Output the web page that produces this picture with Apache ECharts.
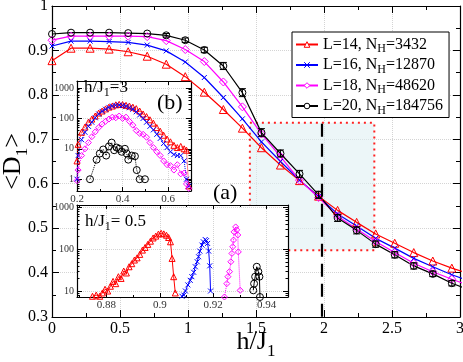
<!DOCTYPE html>
<html><head><meta charset="utf-8">
<script src="https://cdn.jsdelivr.net/npm/echarts@6/dist/echarts.min.js"></script>
<style>html,body{margin:0;padding:0;background:#fff}#c{width:463px;height:362px}</style>
</head><body><div id="c"></div>
<script>
// ---------- main panel data ----------
const hValues = [0,0.14,0.28,0.42,0.56,0.70,0.84,0.98,1.12,1.26,1.40,1.54,1.68,1.82,1.96,2.10,2.24,2.38,2.52,2.66,2.80,2.94,3.08];
const dL14 = [0.877,0.905,0.905,0.903,0.897,0.887,0.869,0.841,0.806,0.767,0.725,0.681,0.642,0.607,0.572,0.540,0.513,0.487,0.466,0.445,0.426,0.410,0.396];
const dL16 = [0.910,0.921,0.921,0.920,0.918,0.912,0.899,0.874,0.839,0.794,0.746,0.694,0.650,0.608,0.571,0.532,0.505,0.477,0.455,0.432,0.413,0.395,0.380];
const dL18 = [0.923,0.932,0.932,0.932,0.932,0.931,0.922,0.902,0.875,0.829,0.773,0.712,0.661,0.608,0.569,0.527,0.498,0.470,0.445,0.421,0.402,0.385,0.370];
const dL20 = [0.937,0.940,0.940,0.940,0.939,0.938,0.934,0.923,0.901,0.865,0.805,0.715,0.668,0.622,0.575,0.523,0.495,0.464,0.440,0.415,0.397,0.376,0.360];
const errL20 = [0,0,0,0,0,0,0.004,0.005,0.006,0.008,0.009,0.009,0.008,0.008,0.008,0.008,0.008,0.007,0.007,0.007,0.006,0.006,0.006];
const chainLengths = [14,16,18,20];
const hilbertDims = [3432,12870,48620,184756];
const criticalField = 1.98;
const dashedSpan = [0.735,0.3];
const zoomBoxH = [1.455,2.37];
const zoomBoxD = [0.45,0.737];
const mainXTicks = ['0','0.5','1','1.5','2','2.5','3'];
const mainYTicks = ['0.3','0.4','0.5','0.6','0.7','0.8','0.9','1'];

// ---------- inset (b): h/J1 = 3 ----------
const xB = [0.200,0.205,0.220,0.235,0.250,0.265,0.280,0.295,0.310,0.325,0.340,0.355,0.370,0.385,0.400,0.415,0.430,0.445,0.460,0.475,0.490,0.505,0.520,0.535,0.550,0.565,0.580,0.595,0.610,0.625,0.640,0.655,0.670,0.680,0.690];
const redB = [4,14,35,52,75,95,120,150,175,205,235,255,280,290,285,270,255,235,210,175,140,115,90,70,50,38,28,21,17,13,11,12,10,9,0.6];
const blueB = [1,6,20,35,55,75,105,140,170,200,230,255,270,275,265,250,225,200,165,130,100,75,55,42,30,22,15,11,8,6.5,6,6,4,1,0.6];
const magentaB = [0.9,2,6,10,16,25,36,50,65,80,95,110,105,120,100,110,80,60,40,32,30,24,16,11,8,6,4,3,2.8,2,3,1.5,1.6,0.7,0.5];
const xBlackB = [0.257,0.286,0.300,0.315,0.328,0.340,0.352,0.363,0.374,0.385,0.396,0.410,0.418,0.425,0.440,0.454,0.462,0.475,0.498];
const blackB = [1,4.4,7,9.5,6,12,16,9,11,10,8,10,7,4.4,6,5.7,2,1,1];

// ---------- inset (a): h/J1 = 0.5 ----------
const xRedA = [0.8748,0.8762,0.8775,0.8785,0.8795,0.8805,0.8815,0.8825,0.8835,0.8845,0.8855,0.8865,0.8875,0.8885,0.8895,0.8905,0.8915,0.8925,0.8935,0.8945,0.8955,0.8965,0.8975,0.8985,0.8995,0.9005,0.9015,0.9025,0.9033,0.9040,0.9046,0.9052,0.9058];
const redA = [7.5,8,7.5,9,11,10,13,17,15,22,20,30,27,38,45,55,62,75,95,110,130,155,185,205,230,240,232,215,190,150,60,22,9];
const xBlueA = [0.9083,0.9090,0.9096,0.9105,0.9114,0.9120,0.9127,0.9133,0.9140,0.9145,0.9150,0.9158,0.9163,0.9170,0.9175,0.9179,0.9183,0.9187,0.9190];
const blueA = [7.5,8,10,14,18,22,28,38,50,66,90,125,150,170,160,137,90,40,10];
const xMagA = [0.9242,0.9251,0.9255,0.9261,0.9266,0.9270,0.9273,0.9276,0.9278,0.9284,0.9288,0.9292,0.9294,0.9301];
const magA = [7.2,15,22,29,50,79,114,165,259,340,289,218,86,10.4];
const xBlackA = [0.9350,0.9353,0.9357,0.9363,0.9369,0.9373,0.9375];
const blackA = [10.4,15,22,38,29,22,7.2];
const logTicks = [1,10,100,1000];

const serif = 'Liberation Serif';
const colors = ['#ff0000','#0000ff','#ff00ff','#000000'];
const crossPath = 'path://M0 0L10 10M10 0L0 10';
const symbols = ['triangle', crossPath, 'diamond', 'circle'];
const symSizes = [8,5,8,7];
const names = chainLengths.map((L,i)=>'L='+L+', N_H='+hilbertDims[i]);
const zip = (xs,ys)=>xs.map((x,i)=>[x,ys[i]]);
const mainData = [dL14,dL16,dL18,dL20];

function axis(dim, grid, pos, o, labels) {
  return Object.assign({
    type:'value', gridIndex:grid, position:pos,
    axisLine:{show:true,onZero:false,lineStyle:{color:'#000',width:1.2}},
    axisTick:{show:true,inside:true,length:7,lineStyle:{color:'#000',width:1}},
    minorTick:{show:true,splitNumber:2,length:4,lineStyle:{color:'#000',width:1}},
    splitLine:{show:false},
    axisLabel:{show:labels}
  }, o);
}
const mainLabel = {show:true,fontFamily:serif,fontSize:16,color:'#000',margin:4};
const insetLabel = {show:true,fontFamily:serif,fontSize:11,color:'#333',margin:3};
const gridLine = {show:true,lineStyle:{color:'#d4d4d4',type:'dotted',width:1}};
const logFmt = v => { const r = Math.round(v); return logTicks.includes(r) && Math.abs(v-r)<1e-6*r+1e-9 ? String(r) : ''; };
const nameRich = {
  t:{fontFamily:serif,fontSize:26,color:'#000',lineHeight:28,verticalAlign:'top'},
  s:{fontFamily:serif,fontSize:17,color:'#000',lineHeight:17,verticalAlign:'top',padding:[14,0,0,0]}
};

const xAxes = [
  axis('x',0,'bottom',{min:0,max:3,interval:0.5,splitLine:gridLine,
     axisLabel:Object.assign({},mainLabel,{formatter:(v)=>mainXTicks[Math.round(v*2)]}),
     name:'{t|h/J}{s|1}',nameLocation:'middle',nameGap:12,nameMoveOverlap:false,
     nameTextStyle:{fontFamily:serif,fontSize:26,color:'#000',verticalAlign:'top',rich:nameRich}}, true),
  axis('x',0,'top',{min:0,max:3,interval:0.5}, false),
  axis('x',1,'bottom',{min:0.2,max:0.7,interval:0.2,splitLine:gridLine,
     axisTick:{show:true,inside:true,length:4,lineStyle:{color:'#000'}},
     minorTick:{show:true,splitNumber:2,length:2,lineStyle:{color:'#000'}},
     axisLabel:Object.assign({},insetLabel,{showMaxLabel:false})}, true),
  axis('x',1,'top',{min:0.2,max:0.7,interval:0.2,
     axisTick:{show:true,inside:true,length:4,lineStyle:{color:'#000'}},
     minorTick:{show:true,splitNumber:2,length:2,lineStyle:{color:'#000'}}}, false),
  axis('x',2,'bottom',{min:0.869,max:0.948,splitNumber:5,splitLine:gridLine,
     axisTick:{show:true,inside:true,length:4,lineStyle:{color:'#000'}},
     minorTick:{show:true,splitNumber:2,length:2,lineStyle:{color:'#000'}},
     axisLabel:Object.assign({},insetLabel,{showMinLabel:false,showMaxLabel:false})}, true),
  axis('x',2,'top',{min:0.869,max:0.948,splitNumber:5,
     axisTick:{show:true,inside:true,length:4,lineStyle:{color:'#000'}},
     minorTick:{show:true,splitNumber:2,length:2,lineStyle:{color:'#000'}}}, false)
];
const logTick = {show:true,inside:true,length:5,lineStyle:{color:'#000'}};
const logMinor = {show:true,splitNumber:9,length:2.5,lineStyle:{color:'#000'}};
const yAxes = [
  axis('y',0,'left',{min:0.3,max:1,interval:0.1,splitLine:gridLine,
     axisLabel:Object.assign({},mainLabel,{formatter:(v)=>mainYTicks[Math.round(v*10)-3]}),
     name:'{t|<D}{s|1}{t|>}',nameLocation:'middle',nameGap:24,nameMoveOverlap:false,
     nameTextStyle:{fontFamily:serif,fontSize:26,color:'#000',rich:nameRich}}, true),
  axis('y',0,'right',{min:0.3,max:1,interval:0.1}, false),
  axis('y',1,'left',{type:'log',logBase:10,min:0.41,max:1700,splitLine:gridLine,
     axisTick:logTick,minorTick:logMinor,
     axisLabel:Object.assign({},insetLabel,{fontSize:10,formatter:logFmt,showMinLabel:false,showMaxLabel:false})}, true),
  axis('y',1,'right',{type:'log',logBase:10,min:0.41,max:1700,axisTick:logTick,minorTick:logMinor}, false),
  axis('y',2,'left',{type:'log',logBase:10,min:7.2,max:1135,splitLine:gridLine,
     axisTick:logTick,minorTick:logMinor,
     axisLabel:Object.assign({},insetLabel,{fontSize:10,formatter:logFmt,showMinLabel:false,showMaxLabel:false})}, true),
  axis('y',2,'right',{type:'log',logBase:10,min:7.2,max:1135,axisTick:logTick,minorTick:logMinor}, false)
];
xAxes.forEach((a,i)=>{ if(i>=2) a.z = 5; });
yAxes.forEach((a,i)=>{ if(i>=2) a.z = 5; });

const series = [];
series.push({
  type:'line', xAxisIndex:0, yAxisIndex:0, data:[], z:2, silent:true,
  markArea:{silent:true,
    itemStyle:{color:'rgba(220,238,243,0.55)',borderColor:'#ff2020',borderWidth:2,borderType:[2,4]},
    data:[[{coord:[zoomBoxH[0],zoomBoxD[1]]},{coord:[zoomBoxH[1],zoomBoxD[0]]}]]},
  markLine:{silent:true,symbol:'none',label:{show:false},
    lineStyle:{color:'#000',width:2.2,type:[13,7]},
    data:[[{coord:[criticalField,dashedSpan[0]]},{coord:[criticalField,dashedSpan[1]]}]]}
});
mainData.forEach((d,i)=>{
  series.push({
    name:names[i], type:'line', xAxisIndex:0, yAxisIndex:0, z:6, clip:true,
    data:zip(hValues,d), symbol:symbols[i], symbolSize:symSizes[i],
    lineStyle:{color:colors[i],width:1.2},
    itemStyle:{color:'transparent',borderColor:colors[i],borderWidth:1},
    emphasis:{disabled:true}
  });
});
series.push({
  type:'custom', xAxisIndex:0, yAxisIndex:0, z:7, clip:true, silent:true,
  data:hValues.map((h,i)=>[h,dL20[i],errL20[i]]),
  renderItem:(params,api)=>{
    const x=api.value(0), y=api.value(1), e=api.value(2);
    if(!e) return null;
    const t=api.coord([x,y+e]), b=api.coord([x,y-e]), w=3.5;
    const st={stroke:'#000',lineWidth:1};
    return {type:'group',children:[
      {type:'line',shape:{x1:t[0],y1:t[1],x2:b[0],y2:b[1]},style:st},
      {type:'line',shape:{x1:t[0]-w,y1:t[1],x2:t[0]+w,y2:t[1]},style:st},
      {type:'line',shape:{x1:b[0]-w,y1:b[1],x2:b[0]+w,y2:b[1]},style:st}]};
  }
});
[[xB,redB],[xB,blueB],[xB,magentaB],[xBlackB,blackB]].forEach((p,i)=>{
  series.push({
    type:'line', xAxisIndex:2, yAxisIndex:2, z:8, clip:true,
    data:zip(p[0],p[1]), symbol:symbols[i], symbolSize:[6,5,6,7][i],
    lineStyle:{color:colors[i],width:1,type:'dotted'},
    itemStyle:{color:'transparent',borderColor:colors[i],borderWidth:1},
    emphasis:{disabled:true}
  });
});
[[xRedA,redA],[xBlueA,blueA],[xMagA,magA],[xBlackA,blackA]].forEach((p,i)=>{
  series.push({
    type:'line', xAxisIndex:4, yAxisIndex:4, z:8, clip:true,
    data:zip(p[0],p[1]), symbol:symbols[i], symbolSize:[6,5,6,7][i],
    lineStyle:{color:colors[i],width:1,type:i===2?'dotted':'solid'},
    itemStyle:{color:'transparent',borderColor:colors[i],borderWidth:1},
    emphasis:{disabled:true}
  });
});

const subRich = {
  t:{fontFamily:serif,fontSize:16,color:'#000'},
  s:{fontFamily:serif,fontSize:12,color:'#000',padding:[9,0,0,0]}
};
const txtRich = {
  t:{fontFamily:serif,fontSize:17,color:'#000'},
  s:{fontFamily:serif,fontSize:12,color:'#000',padding:[10,0,0,0]}
};

const option = {
  animation:false,
  backgroundColor:'#fff',
  grid:[
    {left:52,top:6,width:408,height:311,outerBoundsMode:'none',show:false},
    {left:77,top:81,width:114,height:110,outerBoundsMode:'none',show:true,backgroundColor:'#fff',borderWidth:0,z:3},
    {left:77,top:205,width:211,height:92,outerBoundsMode:'none',show:true,backgroundColor:'#fff',borderWidth:0,z:3}
  ],
  xAxis:xAxes, yAxis:yAxes,
  legend:{
    data:names.map((n,i)=>({name:n,itemStyle:{color:'#fff',borderColor:colors[i],borderWidth:1}})),
    orient:'vertical', left:292, top:32, z:10,
    backgroundColor:'#fff', borderColor:'#000', borderWidth:1, borderRadius:0,
    padding:[4.5,6,1,3], itemGap:2, itemWidth:22, itemHeight:7,
    textStyle:{fontFamily:serif,fontSize:16,color:'#000',rich:subRich},
    formatter:(n)=>{ const i=names.indexOf(n); return '{t|L='+chainLengths[i]+', N}{s|H}{t|='+hilbertDims[i]+'}'; }
  },
  graphic:[
    {type:'text',left:84,top:79,z:20,style:{text:'{t|h/J}{s|1}{t|=3}',rich:txtRich}},
    {type:'text',left:157,top:92,z:20,style:{text:'(b)',font:'22px "Liberation Serif"',fill:'#000'}},
    {type:'text',left:213,top:182,z:20,style:{text:'(a)',font:'22px "Liberation Serif"',fill:'#000'}},
    {type:'text',left:85,top:213,z:20,style:{text:'{t|h/J}{s|1}{t|= 0.5}',rich:txtRich}}
  ],
  series:series
};
const chart = echarts.init(document.getElementById('c'),null,{renderer:'canvas'});
chart.setOption(option);
</script>
</body></html>
